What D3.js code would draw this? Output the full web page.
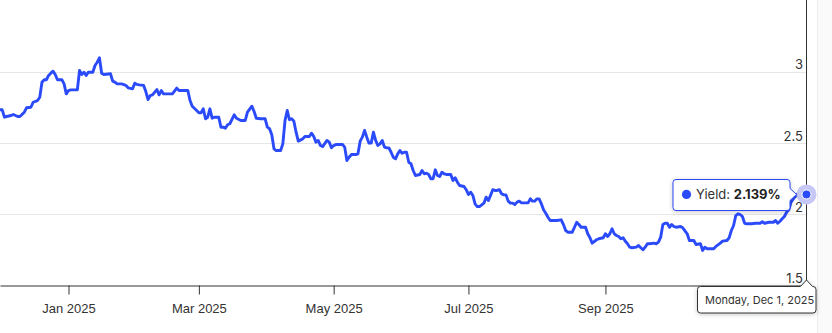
<!doctype html>
<html lang="en">
  <head>
    <meta charset="UTF-8" />
    <title>Yield</title>
    <script src="https://d3js.org/d3.v7.min.js"></script>
    <style>
      body {
        margin: 0;
        padding: 0;
        background: #fff;
        font-family: Inter, 'Noto Sans', sans-serif;
      }
      svg {
        display: block;
      }
      .axis text {
        font-size: 13px;
        fill: #333;
      }
      .grid line {
        stroke: #e6e6e6;
        shape-rendering: crispEdges;
      }
      .yield-line {
        fill: none;
        stroke: #2b4bfa;
        stroke-width: 2.9px;
        stroke-linejoin: round;
        stroke-linecap: round;
      }
      .callout {
        fill: #fff;
        filter: drop-shadow(0 1px 2px rgba(0, 0, 0, 0.22));
      }
    </style>
  </head>
  <body>
    <svg id="chart" width="832" height="333"></svg>

    <script>
      const dates = [
        '2024-12-01','2024-12-02','2024-12-03','2024-12-04','2024-12-06','2024-12-07','2024-12-09','2024-12-10',
        '2024-12-12','2024-12-13','2024-12-15','2024-12-16','2024-12-18','2024-12-19','2024-12-20','2024-12-21',
        '2024-12-22','2024-12-23','2024-12-24','2024-12-25','2024-12-26','2024-12-27','2024-12-29','2024-12-30',
        '2024-12-31','2025-01-01','2025-01-02','2025-01-05','2025-01-06','2025-01-07','2025-01-08','2025-01-09',
        '2025-01-10','2025-01-12','2025-01-13','2025-01-14','2025-01-15','2025-01-16','2025-01-17','2025-01-20',
        '2025-01-21','2025-01-22','2025-01-23','2025-01-25','2025-01-27','2025-01-28','2025-01-30','2025-01-31',
        '2025-02-01','2025-02-02','2025-02-04','2025-02-05','2025-02-06','2025-02-07','2025-02-08','2025-02-10',
        '2025-02-11','2025-02-12','2025-02-13','2025-02-14','2025-02-17','2025-02-19','2025-02-20','2025-02-24',
        '2025-02-25','2025-02-26','2025-02-28','2025-03-01','2025-03-02','2025-03-03','2025-03-04','2025-03-05',
        '2025-03-06','2025-03-07','2025-03-08','2025-03-10','2025-03-11','2025-03-12','2025-03-13','2025-03-14',
        '2025-03-15','2025-03-17','2025-03-18','2025-03-20','2025-03-22','2025-03-23','2025-03-25','2025-03-26',
        '2025-03-27','2025-03-29','2025-03-31','2025-04-01','2025-04-02','2025-04-03','2025-04-04','2025-04-05',
        '2025-04-07','2025-04-08','2025-04-09','2025-04-10','2025-04-11','2025-04-12','2025-04-13','2025-04-14',
        '2025-04-15','2025-04-17','2025-04-18','2025-04-20','2025-04-21','2025-04-22','2025-04-23','2025-04-24',
        '2025-04-25','2025-04-26','2025-04-28','2025-04-29','2025-04-30','2025-05-01','2025-05-02','2025-05-05',
        '2025-05-06','2025-05-07','2025-05-08','2025-05-09','2025-05-11','2025-05-12','2025-05-13','2025-05-14',
        '2025-05-15','2025-05-16','2025-05-17','2025-05-18','2025-05-19','2025-05-20','2025-05-21','2025-05-22',
        '2025-05-23','2025-05-24','2025-05-25','2025-05-26','2025-05-27','2025-05-28','2025-05-29','2025-05-30',
        '2025-05-31','2025-06-01','2025-06-02','2025-06-03','2025-06-04','2025-06-05','2025-06-06','2025-06-07',
        '2025-06-09','2025-06-10','2025-06-11','2025-06-12','2025-06-13','2025-06-14','2025-06-15','2025-06-16',
        '2025-06-17','2025-06-18','2025-06-19','2025-06-20','2025-06-21','2025-06-23','2025-06-24','2025-06-25',
        '2025-06-26','2025-06-27','2025-06-29','2025-06-30','2025-07-01','2025-07-02','2025-07-03','2025-07-04',
        '2025-07-05','2025-07-06','2025-07-08','2025-07-09','2025-07-10','2025-07-11','2025-07-12','2025-07-13',
        '2025-07-14','2025-07-15','2025-07-16','2025-07-17','2025-07-18','2025-07-19','2025-07-20','2025-07-21',
        '2025-07-22','2025-07-23','2025-07-24','2025-07-25','2025-07-28','2025-07-29','2025-07-30','2025-07-31',
        '2025-08-01','2025-08-02','2025-08-03','2025-08-04','2025-08-05','2025-08-06','2025-08-07','2025-08-09',
        '2025-08-10','2025-08-12','2025-08-13','2025-08-14','2025-08-15','2025-08-17','2025-08-18','2025-08-19',
        '2025-08-20','2025-08-21','2025-08-23','2025-08-24','2025-08-25','2025-08-26','2025-08-28','2025-08-29',
        '2025-08-31','2025-09-01','2025-09-02','2025-09-03','2025-09-04','2025-09-05','2025-09-06','2025-09-07',
        '2025-09-08','2025-09-09','2025-09-10','2025-09-11','2025-09-12','2025-09-13','2025-09-15','2025-09-16',
        '2025-09-17','2025-09-18','2025-09-19','2025-09-20','2025-09-21','2025-09-23','2025-09-24','2025-09-25',
        '2025-09-26','2025-09-27','2025-09-28','2025-09-29','2025-09-30','2025-10-01','2025-10-02','2025-10-03',
        '2025-10-05','2025-10-06','2025-10-08','2025-10-09','2025-10-11','2025-10-12','2025-10-14','2025-10-15',
        '2025-10-16','2025-10-17','2025-10-18','2025-10-20','2025-10-21','2025-10-23','2025-10-24','2025-10-26',
        '2025-10-27','2025-10-28','2025-10-29','2025-10-30','2025-10-31','2025-11-01','2025-11-02','2025-11-03',
        '2025-11-04','2025-11-06','2025-11-08','2025-11-10','2025-11-11','2025-11-12','2025-11-14','2025-11-16',
        '2025-11-17','2025-11-18','2025-11-19','2025-11-20','2025-11-21','2025-11-22','2025-11-23','2025-11-24',
        '2025-11-25','2025-11-27','2025-11-28','2025-11-29','2025-11-30','2025-12-01',
      ];

      const yields = [
        2.733, 2.733, 2.681, 2.686, 2.693, 2.700, 2.686, 2.686,
        2.716, 2.747, 2.751, 2.786, 2.798, 2.821, 2.927, 2.944,
        2.944, 2.974, 2.990, 3.004, 2.981, 2.944, 2.944, 2.915,
        2.845, 2.868, 2.873, 2.873, 3.009, 2.981, 2.997, 2.974,
        2.997, 2.997, 3.044, 3.067, 3.098, 2.990, 2.981, 2.986,
        2.934, 2.927, 2.915, 2.915, 2.904, 2.887, 2.880, 2.920,
        2.911, 2.908, 2.904, 2.861, 2.805, 2.833, 2.838, 2.875,
        2.838, 2.868, 2.845, 2.845, 2.845, 2.885, 2.868, 2.868,
        2.798, 2.758, 2.728, 2.712, 2.712, 2.740, 2.670, 2.681,
        2.740, 2.674, 2.681, 2.681, 2.611, 2.611, 2.604, 2.628,
        2.635, 2.698, 2.674, 2.658, 2.658, 2.716, 2.758, 2.721,
        2.674, 2.670, 2.670, 2.611, 2.600, 2.558, 2.459, 2.447,
        2.447, 2.494, 2.658, 2.728, 2.663, 2.670, 2.653, 2.576,
        2.513, 2.529, 2.546, 2.546, 2.569, 2.546, 2.506, 2.518,
        2.483, 2.475, 2.518, 2.506, 2.466, 2.482, 2.489, 2.489,
        2.471, 2.377, 2.400, 2.419, 2.419, 2.424, 2.513, 2.541,
        2.588, 2.541, 2.499, 2.499, 2.576, 2.518, 2.483, 2.494,
        2.518, 2.471, 2.466, 2.466, 2.435, 2.400, 2.389, 2.424,
        2.447, 2.428, 2.435, 2.435, 2.365, 2.354, 2.307, 2.272,
        2.279, 2.307, 2.284, 2.288, 2.279, 2.249, 2.249, 2.312,
        2.272, 2.265, 2.295, 2.284, 2.279, 2.279, 2.237, 2.256,
        2.225, 2.202, 2.195, 2.172, 2.139, 2.155, 2.132, 2.073,
        2.054, 2.054, 2.078, 2.120, 2.096, 2.132, 2.172, 2.167,
        2.167, 2.172, 2.144, 2.136, 2.136, 2.092, 2.078, 2.078,
        2.068, 2.085, 2.092, 2.080, 2.080, 2.108, 2.092, 2.092,
        2.108, 2.108, 2.073, 2.031, 2.007, 1.979, 1.956, 1.956,
        1.956, 1.961, 1.928, 1.886, 1.874, 1.874, 1.909, 1.944,
        1.928, 1.909, 1.909, 1.863, 1.835, 1.797, 1.821, 1.828,
        1.835, 1.863, 1.844, 1.863, 1.898, 1.863, 1.851, 1.844,
        1.828, 1.835, 1.811, 1.793, 1.769, 1.765, 1.769, 1.781,
        1.765, 1.751, 1.769, 1.793, 1.793, 1.797, 1.793, 1.804,
        1.839, 1.928, 1.937, 1.937, 1.909, 1.928, 1.914, 1.909,
        1.914, 1.905, 1.863, 1.816, 1.816, 1.788, 1.793, 1.746,
        1.769, 1.758, 1.758, 1.758, 1.774, 1.797, 1.811, 1.816,
        1.835, 1.886, 1.921, 1.991, 2.003, 1.998, 1.984, 1.937,
        1.933, 1.933, 1.937, 1.937, 1.947, 1.937, 1.944, 1.944,
        1.956, 1.937, 1.951, 1.968, 1.984, 2.014, 2.031, 2.085,
        2.108, 2.144, 2.116, 2.101, 2.125, 2.139,
      ];

      const yTicks = [1.5, 2, 2.5, 3];
      const xTicks = ['2025-01-01', '2025-03-01', '2025-05-01', '2025-07-01', '2025-09-01'];
      const xDomain = ['2024-12-01', '2025-12-01'];
      const hoverDate = '2025-12-01';

      const parse = d3.utcParse('%Y-%m-%d');
      const data = dates.map((d, i) => ({ date: parse(d), value: yields[i] }));

      const plotRight = 806.5;
      const plotBottom = 285.5;

      const x = d3.scaleUtc().domain(xDomain.map(parse)).range([0, plotRight]);
      const y = d3.scaleLinear().domain([1.5, 3.5]).range([plotBottom, 0.5]);

      const svg = d3.select('#chart');

      // scrollbar strip on the far right
      svg.append('rect')
        .attr('x', 817).attr('y', 0).attr('width', 15).attr('height', 333)
        .attr('fill', '#fafafa');
      svg.append('line')
        .attr('x1', 817.5).attr('x2', 817.5).attr('y1', 0).attr('y2', 333)
        .attr('stroke', '#ececec');

      // gridlines
      svg.append('g')
        .attr('class', 'grid')
        .selectAll('line')
        .data(yTicks.filter((t) => t > 1.5))
        .enter()
        .append('line')
        .attr('x1', 0)
        .attr('x2', plotRight)
        .attr('y1', (d) => Math.round(y(d)) + 0.5)
        .attr('y2', (d) => Math.round(y(d)) + 0.5);

      // bottom axis
      const xAxis = svg.append('g')
        .attr('class', 'axis')
        .attr('transform', `translate(0,${plotBottom})`)
        .call(
          d3.axisBottom(x)
            .tickValues(xTicks.map(parse))
            .tickFormat(d3.utcFormat('%b %Y'))
            .tickSize(9)
            .tickSizeOuter(0),
        );
      xAxis.select('.domain').attr('stroke', '#333');
      xAxis.selectAll('.tick line').attr('stroke', '#333');
      xAxis.selectAll('.tick text').attr('y', 18);

      // right axis line + labels inside the plot
      svg.append('line')
        .attr('x1', plotRight).attr('x2', plotRight)
        .attr('y1', 0).attr('y2', plotBottom)
        .attr('stroke', '#333');

      svg.append('g')
        .attr('class', 'axis')
        .selectAll('text')
        .data(yTicks)
        .enter()
        .append('text')
        .attr('x', plotRight - 3.5)
        .attr('y', (d) => y(d) - 2.5)
        .attr('text-anchor', 'end')
        .text((d) => d);

      // line
      const line = d3.line()
        .x((d) => x(d.date))
        .y((d) => y(d.value));

      svg.append('path')
        .datum(data)
        .attr('class', 'yield-line')
        .attr('d', line);

      // hovered point
      const hover = data.find((d) => +d.date === +parse(hoverDate));
      const px = x(hover.date);
      const py = y(hover.value);

      svg.append('circle')
        .attr('cx', px).attr('cy', py).attr('r', 10)
        .attr('fill', '#c6c7f6');
      svg.append('circle')
        .attr('cx', px).attr('cy', py).attr('r', 4.5)
        .attr('fill', '#2b4bfa')
        .attr('stroke', '#fff')
        .attr('stroke-width', 1);

      // value tooltip (arrow pointing right)
      const bw = 117, bh = 31, r = 3;
      const bx1 = px - 16.5, bx0 = bx1 - bw;
      const by0 = Math.round(py) - 14.5, by1 = by0 + bh;
      const tipX = px - 10;
      const valuePath =
        `M${bx0 + r},${by0} H${bx1 - r} Q${bx1},${by0} ${bx1},${by0 + r}` +
        ` V${py - 6} L${tipX},${py} L${bx1},${py + 6}` +
        ` V${by1 - r} Q${bx1},${by1} ${bx1 - r},${by1} H${bx0 + r}` +
        ` Q${bx0},${by1} ${bx0},${by1 - r} V${by0 + r} Q${bx0},${by0} ${bx0 + r},${by0} Z`;

      const tip = svg.append('g');
      tip.append('path')
        .attr('class', 'callout')
        .attr('d', valuePath)
        .attr('stroke', '#2b4bfa')
        .attr('stroke-width', 1);
      tip.append('circle')
        .attr('cx', bx0 + 13.5).attr('cy', py).attr('r', 4.6)
        .attr('fill', '#2b4bfa');
      const label = tip.append('text')
        .attr('x', bx0 + 23)
        .attr('y', py + 4.6)
        .style('font-size', '13px')
        .attr('fill', '#333');
      label.append('tspan').text('Yield: ');
      label.append('tspan')
        .style('font-weight', 'bold')
        .attr('fill', '#222')
        .text(d3.format('.3f')(hover.value) + '%');

      // date tooltip (arrow pointing up)
      const dx0 = 697.5, dx1 = 816, dy0 = plotBottom + 1, dy1 = dy0 + 26.5;
      const datePath =
        `M${dx0 + r},${dy0} H${px - 6} L${px},${dy0 - 6.5} L${px + 6},${dy0}` +
        ` H${dx1 - r} Q${dx1},${dy0} ${dx1},${dy0 + r} V${dy1 - r}` +
        ` Q${dx1},${dy1} ${dx1 - r},${dy1} H${dx0 + r} Q${dx0},${dy1} ${dx0},${dy1 - r}` +
        ` V${dy0 + r} Q${dx0},${dy0} ${dx0 + r},${dy0} Z`;

      svg.append('path')
        .attr('class', 'callout')
        .attr('d', datePath)
        .attr('stroke', '#333')
        .attr('stroke-width', 1);
      svg.append('text')
        .attr('x', dx0 + 7.5)
        .attr('y', dy0 + 17.5)
        .style('font-size', '11px')
        .attr('fill', '#333')
        .text(d3.utcFormat('%A, %b %-d, %Y')(hover.date));
    </script>
  </body>
</html>
